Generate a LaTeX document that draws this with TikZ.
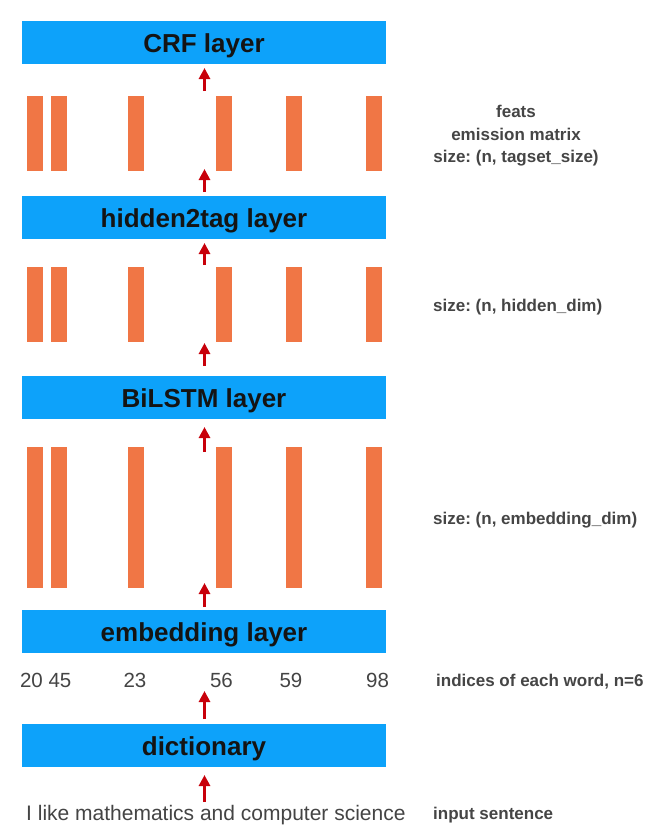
\documentclass[tikz,border=0pt]{standalone}
\usepackage{fontspec}
\setmainfont{Liberation Sans}
\usetikzlibrary{arrows.meta}
\definecolor{layerblue}{HTML}{0DA2FA}
\definecolor{barorange}{HTML}{F07645}
\definecolor{arrowred}{HTML}{C8000A}
\definecolor{labelgray}{HTML}{454545}
\definecolor{textgray}{HTML}{444444}
\frenchspacing
\begin{document}
\begin{tikzpicture}[x=1pt,y=-1pt,
  layerbox/.style={fill=layerblue, draw=none, minimum width=364pt, minimum height=43pt, inner sep=0pt,
    text height=20.5pt, text depth=0pt,
    font=\fontsize{26}{30}\selectfont\bfseries, text=black!92},
  vecbar/.style={fill=barorange, draw=none, minimum width=16pt, inner sep=0pt},
  uparrow/.style={draw=arrowred, line width=3.5pt, -{Triangle[length=11pt,width=11pt]}},
  sidelabel/.style={font=\fontsize{17}{20}\selectfont\bfseries, text=labelgray, inner sep=0pt},
  numlabel/.style={font=\fontsize{20.5}{24}\selectfont, text=textgray, inner sep=0pt, anchor=base},
]
\useasboundingbox (0,0) rectangle (666,828);
\fill[white] (0,0) rectangle (666,828);

% layer boxes
\node[layerbox] (crf) at (204,42.5) {CRF layer};
\node[layerbox] (h2t) at (204,217) {hidden2tag layer};
\node[layerbox] (lstm) at (204,397.5) {BiLSTM layer};
\node[layerbox] (emb) at (204,631) {embedding layer};
\node[layerbox] (dict) at (204,745.5) {dictionary};

% vector bars
\foreach \i/\x in {1/35,2/59,3/136,4/223.5,5/294,6/374}{
  \node[vecbar, minimum height=75pt] (ta\i) at (\x,133.5) {};
  \node[vecbar, minimum height=75pt] (tb\i) at (\x,304.5) {};
  \node[vecbar, minimum height=141pt] (tc\i) at (\x,517.5) {};
}

% word indices
\node[numlabel] (n1) at (31.5,687) {20};
\node[numlabel] (n2) at (60,687) {45};
\node[numlabel] (n3) at (135,687) {23};
\node[numlabel] (n4) at (221.5,687) {56};
\node[numlabel] (n5) at (291,687) {59};
\node[numlabel] (n6) at (377.5,687) {98};

% input sentence
\node[font=\fontsize{21}{25}\selectfont, text=textgray, inner sep=0pt, anchor=base west] (sent) at (26,820.5) {I like mathematics and computer science};

% side labels
\node[sidelabel, anchor=base] (feats) at (516,117) {feats};
\node[sidelabel, anchor=base] (emis) at (516,140) {emission matrix};
\node[sidelabel, anchor=base] (sz1) at (516,162) {size: (n, tagset\_size)};
\node[sidelabel, anchor=base west] (sz2) at (433,311) {size: (n, hidden\_dim)};
\node[sidelabel, anchor=base west] (sz3) at (433,524) {size: (n, embedding\_dim)};
\node[sidelabel, anchor=base west] (idx) at (436,686) {indices of each word, n=6};
\node[sidelabel, anchor=base west] (inp) at (433,819) {input sentence};

% arrows
\foreach \k/\t/\h in {1/91/68, 2/192/169, 3/265/243, 4/366/343, 5/452/427, 6/607/583, 7/719/691, 8/802/775}{
  \coordinate (at\k) at (204.5,\t);
  \coordinate (ah\k) at (204.5,\h);
  \draw[uparrow] (at\k) -- (ah\k);
}
\end{tikzpicture}
\end{document}
